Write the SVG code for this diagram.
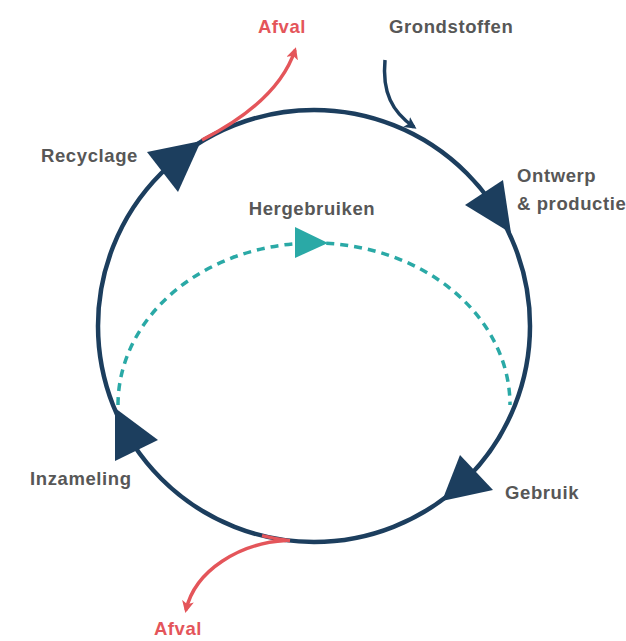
<svg xmlns="http://www.w3.org/2000/svg" width="626" height="641" viewBox="0 0 626 641">
<defs>
<style>
.lbl{font-family:"Liberation Sans",Arial,sans-serif;font-weight:bold;font-size:18.5px;fill:#575757;letter-spacing:0.6px}
.red{fill:#e4555a}
.ring{fill:none;stroke:#1c3e5e;stroke-width:4.5}
.head{fill:#1c3e5e}
.waste{fill:none;stroke:#e4555a;stroke-width:3.5}
.reuse{fill:none;stroke:#2aa9a6;stroke-width:3.5;stroke-dasharray:8 6}
</style>
<marker id="mRed" viewBox="0 0 12 12" refX="9" refY="6" markerWidth="12" markerHeight="12" markerUnits="userSpaceOnUse" orient="auto">
<path d="M0,0 L12,6 L0,12 L3,6 Z" fill="#e4555a"/>
</marker>
<marker id="mNavy" viewBox="0 0 12 12" refX="9" refY="6" markerWidth="12" markerHeight="12" markerUnits="userSpaceOnUse" orient="auto">
<path d="M0,0 L12,6 L0,12 L3,6 Z" fill="#1c3e5e"/>
</marker>
</defs>
<rect width="626" height="641" fill="#ffffff"/>
<g id="connectors">
<circle class="ring" cx="314" cy="326" r="216"/>
<polygon class="head" points="147,152 201,141 178,192"/>
<polygon class="head" points="503,180 465,205 511,233"/>
<polygon class="head" points="460,455 493,490 442,501"/>
<polygon class="head" points="115,408 158,440 115,461"/>
<path class="reuse" d="M118,405 A196,162 0 0 1 510,405"/>
<polygon fill="#2aa9a6" points="295,227 295,258 328,243"/>
<path fill="none" stroke="#1c3e5e" stroke-width="3.5" d="M385,60 C382,92 392,112 414,127" marker-end="url(#mNavy)"/>
<path class="waste" d="M202,140 C245,118 282,90 295,50" marker-end="url(#mRed)"/>
<path class="waste" stroke-width="4.6" d="M262,535.6 A216,216 0 0 0 290,540.7"/>
<path class="waste" d="M286,540.5 C240,543 195,570 186,610" marker-end="url(#mRed)"/>
</g>
<g id="afval-top"><text class="lbl red" x="282" y="33" text-anchor="middle">Afval</text></g>
<g id="grondstoffen"><text class="lbl" x="389" y="33">Grondstoffen</text></g>
<g id="recyclage"><text class="lbl" x="41" y="162">Recyclage</text></g>
<g id="ontwerp"><text class="lbl" x="517" y="182">Ontwerp</text><text class="lbl" x="517" y="210">&amp; productie</text></g>
<g id="hergebruiken"><text class="lbl" x="312" y="215" text-anchor="middle">Hergebruiken</text></g>
<g id="inzameling"><text class="lbl" x="30" y="485">Inzameling</text></g>
<g id="gebruik"><text class="lbl" x="505" y="499">Gebruik</text></g>
<g id="afval-bottom"><text class="lbl red" x="178" y="635" text-anchor="middle">Afval</text></g>
</svg>
